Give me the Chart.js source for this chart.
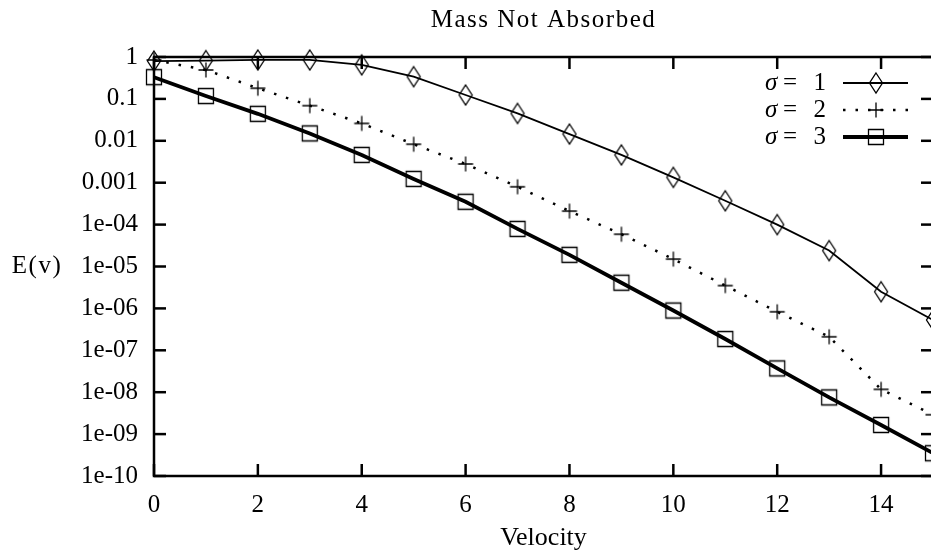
<!DOCTYPE html>
<html>
<head>
<meta charset="utf-8">
<script src="https://cdn.jsdelivr.net/npm/chart.js@4.4.0/dist/chart.umd.min.js"></script>
<style>
html, body { margin:0; padding:0; background:#fff; overflow:hidden; }
#contenedor { width:960px; height:552px; }
</style>
</head>
<body>
<div id="contenedor"><canvas id="grafico" width="960" height="552"></canvas></div>
<script>
// datos
const velocidad = [0,1,2,3,4,5,6,7,8,9,10,11,12,13,14,15];
const sigma1 = [0.8, 0.82, 0.85, 0.85, 0.65, 0.34, 0.124, 0.045, 0.0145, 0.0046, 0.00134, 3.7e-4, 1.0e-4, 2.4e-5, 2.5e-6, 5.3e-7];
const sigma2 = [0.85, 0.49, 0.18, 0.069, 0.026, 0.0083, 0.0028, 8.0e-4, 2.1e-4, 5.9e-5, 1.5e-5, 3.5e-6, 8.3e-7, 2.1e-7, 1.17e-8, 2.9e-9];
const sigma3 = [0.33, 0.117, 0.044, 0.015, 0.0046, 0.00123, 3.5e-4, 7.9e-5, 1.9e-5, 4.1e-6, 8.9e-7, 1.86e-7, 3.7e-8, 7.5e-9, 1.65e-9, 3.5e-10];
const nombresSigma = ['1', '2', '3'];

const ticksX = [0,2,4,6,8,10,12,14];
const ticksY = [1, 0.1, 0.01, 0.001, 1e-4, 1e-5, 1e-6, 1e-7, 1e-8, 1e-9, 1e-10];
const etiquetasY = ['1','0.1','0.01','0.001','1e-04','1e-05','1e-06','1e-07','1e-08','1e-09','1e-10'];

const titulo = 'Mass Not Absorbed';
const tituloX = 'Velocity';
const tituloY = 'E(v)';

const fuente = 'Liberation Serif';

function marcador(tipo){
    let c = document.createElement('canvas');
    let w = 20, h = 20;
    if(tipo == 'rombo'){ w = 16; h = 24; }
    c.width = w; c.height = h;
    let g = c.getContext('2d');
    g.strokeStyle = '#000';
    g.lineWidth = 1.3;
    g.beginPath();
    if(tipo == 'rombo'){
        g.moveTo(w/2, 2); g.lineTo(w-1.5, h/2); g.lineTo(w/2, h-2); g.lineTo(1.5, h/2); g.closePath();
    } else if(tipo == 'cruz'){
        g.moveTo(w/2, 2.5); g.lineTo(w/2, h-2.5);
        g.moveTo(2.5, h/2); g.lineTo(w-2.5, h/2);
    } else {
        g.rect(2.5, 2.5, w-5, h-5);
    }
    g.stroke();
    return c;
}

const marcadores = [marcador('rombo'), marcador('cruz'), marcador('cuadro')];

function serie(valores, i, ancho, guiones){
    return {
        label: nombresSigma[i],
        data: velocidad.map((v, k) => ({x: v, y: valores[k]})),
        borderColor: '#000',
        borderWidth: ancho,
        borderDash: guiones,
        pointStyle: marcadores[i],
        pointRadius: 8,
        tension: 0,
        fill: false,
        clip: false
    };
}

const marco = {
    id: 'marco',
    afterDraw(chart){
        const ctx = chart.ctx;
        const a = chart.chartArea;
        const x = chart.scales.x, y = chart.scales.y;

        function linea(x1, y1, x2, y2){
            ctx.beginPath(); ctx.moveTo(x1, y1); ctx.lineTo(x2, y2); ctx.stroke();
        }

        ctx.save();
        ctx.strokeStyle = '#000';
        ctx.lineWidth = 2.5;
        ctx.strokeRect(a.left, a.top, a.right - a.left, a.bottom - a.top);

        ticksY.forEach(v => {
            let p = y.getPixelForValue(v);
            linea(a.left, p, a.left + 12, p);
            linea(a.right - 12, p, a.right, p);
        });
        ticksX.forEach(v => {
            let p = x.getPixelForValue(v);
            linea(p, a.bottom, p, a.bottom - 12);
            linea(p, a.top, p, a.top + 12);
        });

        ctx.fillStyle = '#000';
        ctx.font = '25px "' + fuente + '"';
        ctx.textBaseline = 'middle';
        ctx.textAlign = 'center';
        ctx.letterSpacing = '1.5px';
        ctx.fillText(titulo, (a.left + a.right) / 2, 20);
        ctx.fillText(tituloY, 37, (a.top + a.bottom) / 2);
        ctx.letterSpacing = '0px';

        // leyenda estilo gnuplot
        chart.data.datasets.forEach((ds, i) => {
            let fy = a.top + 26 + 27 * i;
            let fin = a.right - 105;
            ctx.font = 'italic 25px "' + fuente + '"';
            ctx.textAlign = 'left';
            ctx.fillText('σ', fin - 63, fy);
            ctx.font = '25px "' + fuente + '"';
            ctx.textAlign = 'center';
            ctx.fillText('=', fin - 38, fy);
            ctx.textAlign = 'right';
            ctx.fillText(ds.label, fin - 2, fy);

            ctx.lineWidth = ds.borderWidth;
            ctx.setLineDash(ds.borderDash || []);
            linea(a.right - 90, fy, a.right - 25, fy);
            ctx.setLineDash([]);
            let m = ds.pointStyle;
            ctx.drawImage(m, a.right - 57 - m.width / 2, fy - m.height / 2);
        });
        ctx.restore();
    }
};

Chart.defaults.font.family = fuente;
Chart.defaults.color = '#000';

let g = new Chart(document.getElementById('grafico').getContext('2d'), {
    type: 'line',
    data: {
        datasets: [
            serie(sigma1, 0, 1.8, []),
            serie(sigma2, 1, 2.5, [2.5, 10]),
            serie(sigma3, 2, 3.8, [])
        ]
    },
    options: {
        responsive: false,
        animation: false,
        devicePixelRatio: 1,
        layout: {
            padding: { top: 57, right: 27, left: 0, bottom: 0 }
        },
        plugins: {
            legend: { display: false },
            tooltip: { enabled: false },
            title: { display: false }
        },
        scales: {
            x: {
                type: 'linear',
                min: 0,
                max: 15,
                grid: { display: false, drawTicks: false },
                border: { display: false },
                ticks: {
                    font: { size: 25 },
                    padding: 14,
                    autoSkip: false,
                    maxRotation: 0
                },
                title: {
                    display: true,
                    text: tituloX,
                    font: { size: 26, lineHeight: 1 },
                    padding: { top: 0, bottom: 1 }
                },
                afterBuildTicks: function(s){
                    s.ticks = ticksX.map(v => ({value: v}));
                },
                afterFit: function(s){
                    s.height = 76;
                }
            },
            y: {
                type: 'logarithmic',
                min: 1e-10,
                max: 1,
                grid: { display: false, drawTicks: false },
                border: { display: false },
                ticks: {
                    font: { size: 25 },
                    padding: 16,
                    autoSkip: false,
                    callback: function(valor, i){
                        return etiquetasY[i];
                    }
                },
                afterBuildTicks: function(s){
                    s.ticks = ticksY.map(v => ({value: v}));
                },
                afterFit: function(s){
                    s.width = 154;
                }
            }
        }
    },
    plugins: [marco]
});
</script>
</body>
</html>
